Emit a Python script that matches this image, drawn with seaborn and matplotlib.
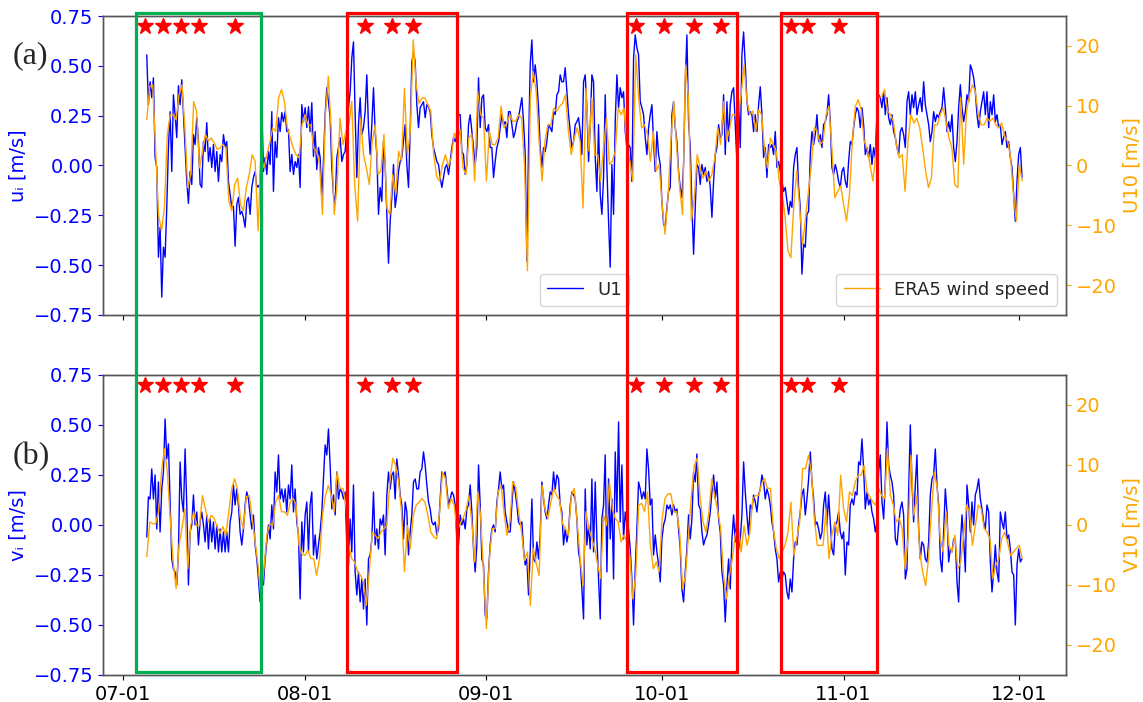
import numpy as np
import pandas as pd
import matplotlib
matplotlib.use("Agg")
import matplotlib.pyplot as plt
import matplotlib.dates as mdates
import matplotlib.transforms as mtransforms
from matplotlib.patches import Rectangle
import seaborn as sns

sns.set_style("ticks")
plt.rcParams["font.family"] = ["DejaVu Sans"]

# Mooring currents are sampled every 410 min, ERA5 winds every 12 h
CURRENT_START, CURRENT_FREQ = "2023-07-04 23:45", "410min"
WIND_START, WIND_FREQ = "2023-07-05 00:00", "12h"

# (a) along-shore current u1 [m/s]
u1 = [
    0.555, 0.305, 0.42, 0.34, 0.44, 0.04, -0.01, -0.46, -0.31, -0.66,
    -0.41, -0.46, -0.21, 0.09, 0.27, -0.03, 0.355, 0.255, 0.14, 0.40,
    0.305, 0.43, 0.255, 0.09, -0.08, -0.19, -0.03, -0.095, 0.155, 0.105,
    0.24, 0.12, -0.095, -0.11, 0.12, 0.07, 0.215, 0.02, 0.09, -0.01,
    0.105, -0.03, 0.07, -0.08, 0.055, 0.02, 0.155, 0.095, 0.12, -0.08,
    -0.145, -0.21, -0.205, -0.405, -0.195, -0.16, -0.245, -0.23, -0.26, -0.31,
    -0.18, -0.16, -0.245, -0.11, -0.06, -0.03, -0.11, -0.10, -0.12, 0.305,
    -0.03, 0.04, -0.045, 0.07, 0.005, 0.27, -0.13, 0.12, 0.04, 0.24,
    0.17, 0.265, 0.22, 0.27, 0.17, 0.18, -0.03, 0.055, -0.045, 0.02,
    -0.01, 0.055, -0.11, 0.305, 0.22, 0.29, 0.19, 0.295, 0.17, 0.315,
    0.045, 0.17, -0.02, 0.09, 0.04, -0.16, 0.02, 0.255, 0.39, 0.32,
    0.24, -0.01, -0.145, -0.195, 0.04, 0.09, 0.14, 0.02, 0.055, 0.07,
    0.19, 0.29, 0.37, 0.54, 0.62, 0.255, -0.06, 0.205, 0.34, 0.155,
    0.19, 0.27, 0.455, 0.19, 0.055, 0.205, 0.39, 0.17, 0.055, -0.245,
    -0.11, -0.18, 0.12, 0.005, -0.245, -0.49, -0.28, -0.16, 0.005, -0.21,
    -0.145, -0.03, 0.02, 0.04, 0.12, 0.205, 0.005, -0.11, 0.17, 0.52,
    0.57, 0.52, 0.305, 0.19, 0.29, 0.305, 0.32, 0.24, 0.305, 0.295,
    0.27, 0.155, 0.09, 0.055, 0.02, 0.005, -0.06, -0.11, -0.06, -0.01,
    0.005, -0.045, 0.02, 0.09, 0.14, 0.12, 0.17, 0.255, 0.255, 0.07,
    0.055, -0.045, 0.005, 0.205, 0.255, 0.17, 0.09, 0.005, 0.09, 0.44,
    0.19, 0.34, 0.355, 0.19, 0.17, 0.205, 0.09, 0.09, -0.06, 0.02,
    0.09, 0.12, 0.19, 0.255, 0.205, 0.22, 0.14, 0.27, 0.27, 0.205,
    0.14, 0.17, 0.22, 0.24, 0.29, 0.34, 0.22, 0.055, -0.48, 0.09,
    0.505, 0.63, 0.42, 0.505, 0.42, 0.29, 0.09, -0.01, 0.09, 0.07,
    0.12, 0.205, 0.19, 0.17, 0.27, 0.255, 0.355, 0.37, 0.455, 0.42,
    0.42, 0.49, 0.37, 0.255, 0.17, 0.09, 0.12, 0.205, 0.22, 0.24,
    0.17, 0.055, 0.42, 0.455, 0.29, 0.02, 0.19, 0.455, 0.42, 0.04,
    -0.13, 0.205, -0.145, -0.245, -0.06, 0.355, -0.01, -0.28, -0.51, 0.005,
    -0.245, 0.22, 0.455, 0.29, 0.39, 0.34, 0.37, 0.17, 0.09, 0.105,
    0.09, -0.08, 0.54, 0.655, 0.59, 0.555, 0.32, 0.29, 0.255, 0.14,
    0.055, 0.19, 0.255, 0.305, 0.12, -0.03, 0.17, 0.055, 0.005, -0.18,
    -0.295, -0.31, -0.21, -0.13, -0.11, 0.255, 0.32, 0.19, 0.12, -0.03,
    -0.11, -0.16, 0.005, 0.42, 0.655, 0.22, 0.09, -0.195, -0.445, -0.21,
    0.005, -0.01, -0.095, 0.005, -0.045, -0.01, -0.08, -0.03, -0.11, -0.26,
    -0.08, 0.055, 0.09, 0.205, 0.14, 0.155, 0.355, 0.055, 0.32, 0.12,
    0.305, 0.37, 0.39, 0.205, 0.02, 0.305, 0.09, 0.555, 0.67, 0.505,
    0.32, 0.255, 0.27, 0.255, 0.17, 0.255, 0.17, 0.305, 0.395, 0.255,
    0.04, 0.09, -0.06, 0.105, 0.09, 0.105, 0.055, 0.17, -0.01, 0.02,
    -0.03, -0.08, -0.13, -0.11, -0.18, -0.245, -0.18, -0.21, -0.01, 0.055,
    0.09, -0.11, -0.21, -0.545, -0.395, -0.41, -0.245, -0.23, 0.055, 0.17,
    0.105, 0.155, 0.255, 0.12, 0.155, 0.09, 0.205, 0.22, 0.255, 0.355,
    0.22, -0.01, -0.045, 0.005, -0.03, -0.08, -0.11, -0.03, -0.01, -0.08,
    -0.11, 0.02, 0.12, 0.105, 0.19, 0.255, 0.29, 0.27, 0.19, 0.29,
    0.205, 0.055, 0.09, 0.04, 0.105, 0.005, 0.09, 0.04, 0.27, 0.355,
    0.34, 0.29, 0.37, 0.255, 0.34, 0.24, 0.205, 0.255, 0.17, 0.14,
    0.09, 0.055, 0.17, 0.19, 0.155, 0.09, 0.32, 0.37, 0.255, 0.355,
    0.29, 0.37, 0.255, 0.305, 0.34, 0.27, 0.42, 0.305, 0.255, 0.205,
    0.12, 0.17, 0.27, 0.22, 0.255, 0.24, 0.27, 0.29, 0.39, 0.29,
    0.17, 0.22, 0.17, 0.255, 0.09, 0.02, 0.12, 0.29, 0.405, 0.29,
    0.22, 0.27, 0.355, 0.32, 0.505, 0.48, 0.44, 0.37, 0.255, 0.19,
    0.27, 0.32, 0.37, 0.255, 0.37, 0.19, 0.32, 0.255, 0.355, 0.22,
    0.255, 0.19, 0.205, 0.105, 0.14, 0.17, 0.09, 0.12, 0.04, -0.01,
    -0.145, -0.28, -0.08, 0.055, 0.09, -0.06,
]
# (a) ERA5 U10 [m/s]
era5_u10 = [
    7.7, 13.2, 13.5, 2.9, -8.2, -10.9, -7.1, 5.2, 8.5, 8.5,
    7.7, 11.8, 13.5, 6.3, -3.7, -1.5, 10.7, 9.1, -0.4, 2.4,
    5.2, 4.1, 4.6, 3.8, 2.7, 2.9, 3.5, 2.9, -5.9, -7.6,
    -3.2, -2.1, -6.5, -7.6, -3.7, -1.5, 1.8, 0.7, -10.9, 1.8,
    -0.4, 1.8, 3.8, 6.3, 5.7, 11.3, 12.7, 10.7, 6.3, 4.6,
    2.9, 1.8, 1.3, 6.8, 8.5, 6.8, 6.8, 2.9, 2.4, 0.2,
    -8.2, 8.5, 14.9, 5.7, -8.2, -3.2, 7.9, 3.5, 5.7, 6.8,
    10.7, -3.2, -9.3, 7.9, 1.8, -0.4, -3.2, 4.1, 6.8, -1.5,
    -0.9, 5.2, -7.1, -8.2, -1.5, -4.8, 2.4, 0.7, 12.9, 1.8,
    5.7, 21.0, 13.5, 10.4, 11.3, 11.3, 10.2, 9.1, 1.8, -1.8,
    -2.6, 0.2, 1.8, -0.1, 1.3, 5.4, 4.1, 6.0, -0.4, -1.5,
    4.6, 5.2, -2.6, 12.4, 8.5, 8.0, -2.6, 5.7, 3.5, 3.5,
    4.6, 9.9, 6.3, 7.1, 8.5, 7.4, 7.4, 8.5, 8.0, 0.2,
    -17.6, 11.3, 15.7, 12.4, 4.1, -2.6, 4.1, 6.8, 6.8, 9.6,
    9.1, 9.9, 10.4, 11.8, 5.7, 1.8, 4.6, 6.3, 4.1, -7.1,
    12.9, 2.4, 11.3, 1.8, 1.8, -2.6, 2.9, 7.9, 0.2, 0.7,
    2.4, 9.6, 8.5, 9.6, 2.9, 0.7, -2.6, 18.5, 11.3, 6.3,
    6.8, 5.2, 0.7, 5.7, -0.9, 0.2, -6.5, -11.5, -5.4, 4.1,
    10.7, 2.9, -3.7, -8.2, 16.8, 11.3, -9.3, -5.4, 1.8, -0.4,
    -2.1, -0.9, -2.6, -1.5, 1.3, 6.3, 3.5, 10.7, 4.1, 6.0,
    8.5, 8.5, 8.5, 11.8, 16.8, 10.7, 8.5, 9.1, 5.7, 9.3,
    8.5, 2.7, -0.4, 4.6, 3.5, 2.4, -2.6, -4.8, -8.5, -14.3,
    -15.4, -6.5, -0.9, -7.1, -13.2, -8.7, -4.3, 0.2, 6.3, 5.7,
    3.5, 4.1, 8.5, 9.9, 2.9, -5.4, -4.3, -3.4, -6.5, -9.3,
    -4.8, 4.3, 9.9, 11.0, 9.3, 4.1, 2.9, 0.2, -2.6, 1.8,
    11.3, 11.6, 12.7, 9.1, 8.5, 7.4, 3.5, 1.3, 1.8, -4.3,
    4.1, 8.5, 7.1, 7.9, 6.3, 2.9, -0.9, -3.7, -2.1, 6.8,
    6.8, 8.5, 9.6, 7.4, 4.6, 2.9, -3.2, -3.7, 11.3, 0.2,
    9.1, 11.8, 13.5, 12.4, 8.5, 6.8, 6.8, 7.9, 7.4, 7.9,
    6.8, 6.3, 7.1, 4.9, 4.1, 1.6, -4.8, -9.3, 0.2, -2.6,
]

# (b) cross-shore current v1 [m/s]
v1 = [
    -0.06, 0.14, 0.13, 0.28, 0.13, 0.25, -0.02, 0.215, -0.035, 0.18,
    0.265, 0.53, 0.33, 0.405, 0.115, -0.17, -0.22, -0.235, -0.30, -0.135,
    0.315, 0.13, 0.065, 0.38, 0.10, -0.30, -0.035, 0.0, 0.15, 0.0,
    0.065, -0.10, 0.015, 0.065, 0.0, -0.085, 0.05, -0.12, 0.03, -0.085,
    0.015, -0.12, 0.0, -0.135, -0.02, -0.135, -0.035, -0.135, -0.035, -0.135,
    0.015, 0.065, 0.20, 0.10, 0.18, 0.10, -0.035, -0.10, -0.02, 0.10,
    0.165, 0.13, 0.05, -0.02, 0.05, -0.10, -0.17, -0.27, -0.385, -0.135,
    -0.30, -0.17, -0.085, 0.0, -0.07, 0.10, -0.02, 0.265, 0.165, 0.35,
    0.13, 0.18, 0.115, 0.18, 0.065, 0.20, 0.13, 0.30, 0.065, 0.18,
    0.015, -0.05, -0.37, 0.015, -0.135, 0.05, 0.115, -0.135, 0.10, 0.165,
    -0.15, -0.05, -0.17, -0.10, -0.035, 0.065, 0.23, 0.40, 0.35, 0.48,
    0.30, 0.08, 0.15, 0.05, 0.265, 0.13, 0.18, 0.165, 0.13, 0.165,
    -0.10, -0.20, 0.03, -0.135, 0.20, -0.235, -0.35, -0.235, -0.385, -0.27,
    -0.42, -0.27, -0.50, -0.17, -0.15, -0.07, 0.165, -0.10, -0.02, -0.12,
    0.03, 0.0, 0.05, -0.15, 0.15, 0.265, 0.18, 0.25, 0.265, 0.13,
    0.33, 0.25, 0.15, 0.10, -0.07, 0.115, 0.065, -0.15, -0.035, 0.05,
    0.215, 0.23, 0.18, 0.18, 0.265, 0.28, 0.365, 0.30, 0.20, 0.115,
    0.08, 0.015, 0.0, 0.015, -0.05, -0.02, 0.13, 0.265, 0.25, 0.265,
    0.18, 0.10, 0.13, 0.165, 0.15, 0.10, -0.07, -0.10, 0.05, 0.0,
    0.03, -0.02, 0.08, 0.10, 0.20, 0.065, -0.12, -0.235, -0.10, 0.30,
    0.10, -0.17, -0.20, -0.45, -0.47, -0.235, -0.10, -0.02, 0.0, -0.035,
    0.115, 0.18, 0.265, 0.18, 0.20, 0.065, 0.015, -0.035, -0.035, 0.10,
    0.215, 0.165, 0.10, 0.015, 0.0, 0.015, -0.12, -0.20, -0.17, -0.35,
    -0.135, 0.13, -0.17, -0.185, -0.085, -0.17, -0.05, 0.215, 0.13, 0.065,
    0.03, 0.10, 0.165, 0.15, 0.265, 0.18, 0.25, 0.23, 0.10, 0.065,
    -0.10, -0.02, -0.085, -0.035, 0.10, 0.165, 0.15, 0.13, 0.03, -0.135,
    -0.185, -0.32, -0.47, 0.18, -0.10, 0.0, -0.12, 0.23, -0.135, 0.215,
    -0.07, -0.27, -0.47, 0.03, 0.10, 0.35, -0.235, 0.23, -0.07, 0.13,
    -0.27, 0.365, 0.065, 0.515, 0.015, 0.30, -0.07, 0.065, 0.0, -0.02,
    -0.12, -0.27, -0.50, -0.22, -0.02, 0.215, 0.18, 0.13, 0.165, 0.13,
    0.38, 0.28, 0.10, 0.13, -0.15, -0.05, -0.135, -0.20, -0.285, -0.07,
    0.0, 0.03, 0.10, 0.08, 0.10, 0.05, 0.10, 0.065, 0.08, -0.02,
    -0.12, -0.32, -0.385, -0.235, -0.12, 0.05, -0.07, 0.03, 0.265, 0.215,
    0.355, 0.10, 0.08, -0.035, -0.10, -0.07, -0.05, 0.0, 0.065, 0.165,
    0.25, 0.13, 0.215, 0.03, -0.035, -0.235, -0.30, -0.485, -0.30, -0.17,
    -0.32, -0.07, 0.05, -0.085, 0.05, -0.12, -0.07, 0.05, 0.315, 0.165,
    0.05, -0.05, 0.10, 0.08, 0.15, 0.115, 0.065, 0.15, 0.18, 0.25,
    0.215, 0.13, 0.18, 0.15, 0.10, 0.015, -0.035, -0.12, -0.17, -0.285,
    -0.235, -0.27, -0.235, -0.25, -0.335, -0.37, -0.27, -0.335, -0.17, -0.085,
    -0.10, 0.0, 0.065, 0.15, 0.18, 0.05, 0.13, 0.23, 0.365, 0.215,
    0.13, 0.0, 0.015, -0.02, -0.07, -0.035, 0.10, 0.165, 0.0, 0.15,
    0.015, -0.12, -0.15, 0.0, 0.015, 0.065, -0.035, -0.07, -0.035, -0.25,
    -0.085, -0.10, 0.10, 0.13, 0.10, 0.165, 0.15, 0.315, 0.30, 0.43,
    0.28, 0.08, 0.165, 0.10, 0.13, 0.065, 0.03, -0.035, 0.015, 0.265,
    0.35, 0.115, 0.03, 0.215, 0.515, 0.30, 0.25, 0.215, 0.15, -0.07,
    -0.10, 0.0, 0.08, 0.115, 0.05, -0.27, -0.22, 0.165, 0.50, 0.215,
    0.015, 0.20, 0.35, -0.02, -0.17, -0.085, -0.10, -0.17, -0.185, -0.085,
    0.15, 0.23, 0.25, 0.38, 0.20, 0.10, -0.17, -0.235, -0.035, 0.18,
    0.065, -0.185, -0.12, -0.135, -0.07, -0.07, -0.285, -0.385, -0.10, 0.05,
    -0.07, -0.235, 0.20, 0.10, -0.035, 0.115, 0.0, 0.15, 0.18, 0.23,
    0.13, 0.08, 0.015, -0.02, 0.10, 0.065, -0.185, -0.335, -0.235, -0.10,
    -0.235, -0.285, 0.065, 0.015, -0.02, 0.065, -0.07, -0.05, -0.12, -0.235,
    -0.25, -0.50, -0.20, -0.12, -0.185, -0.17,
]
# (b) ERA5 V10 [m/s]
era5_v10 = [
    -5.3, 0.5, 0.2, 0.2, 2.2, 8.8, 12.7, 8.8, 1.1, -6.2,
    -10.6, -3.4, -0.6, 2.7, -7.3, -0.1, 2.2, -0.1, -0.1, 4.9,
    2.7, 0.5, 1.6, 1.1, -0.3, -1.4, -0.3, -1.7, 2.2, 6.1,
    7.7, 5.8, 1.1, -0.6, 4.7, 4.9, 1.1, -2.8, -6.7, -12.5,
    -7.3, -1.7, 0.2, -0.1, 3.8, 4.9, 2.2, 2.2, 1.6, 3.8,
    4.4, 3.3, -3.4, -4.8, -5.1, -4.2, -5.6, -5.6, -8.4, -5.6,
    1.6, 4.9, 6.6, 4.9, 2.2, 8.8, 6.1, 6.1, 3.3, -3.4,
    -5.6, -6.2, -7.8, -8.4, -9.5, -13.4, -7.8, -1.2, -1.7, -2.3,
    -1.2, -0.6, -0.1, 7.2, 11.1, 10.0, 7.2, 2.2, -7.8, -0.1,
    -3.9, 1.6, 3.3, 3.8, 4.4, 3.8, 1.6, -1.2, -2.0, -2.3,
    2.2, 8.8, 7.7, 2.7, 4.4, 3.3, -1.2, 0.2, 1.1, 2.4,
    4.9, 0.5, -6.2, 5.5, 1.6, -7.8, -17.3, -5.6, -0.6, -0.6,
    5.5, 6.6, 2.2, -1.7, 0.5, 7.2, 6.3, 2.2, -1.2, -5.9,
    -4.5, -13.4, -3.9, -6.4, -8.4, 6.6, 2.7, 1.1, 3.8, 6.1,
    4.9, 4.1, 0.2, -0.6, -1.7, 4.9, 6.1, 0.5, -5.6, -10.1,
    2.2, -0.6, -2.3, -3.9, -6.7, -8.9, 1.6, -0.1, 7.2, 2.7,
    1.1, 0.5, -2.8, -1.7, -2.8, -5.1, -12.3, -8.4, 3.3, 3.6,
    2.2, 5.5, -3.4, -7.3, -6.2, -7.8, 1.1, 4.4, 5.2, 5.2,
    2.2, 2.2, -1.2, -10.6, -8.4, -1.7, 4.9, 9.9, 11.1, 4.4,
    0.5, -1.2, 2.2, 7.7, 4.7, 2.4, -0.6, -8.4, -12.3, -8.5,
    -5.6, -1.7, -0.1, -4.5, -0.1, -3.4, -1.2, 4.4, 4.9, 4.9,
    6.9, 7.7, 6.1, 6.1, -0.6, -3.9, -5.6, -4.5, -3.4, -1.2,
    3.8, -5.1, -2.3, 0.5, 9.4, 9.4, 11.6, 8.8, 1.1, -3.4,
    -3.4, -3.4, 2.7, -5.6, -1.7, 0.5, -1.7, 8.3, 2.7, 0.5,
    5.5, 4.9, 7.2, 8.3, 8.3, 9.9, 5.5, 4.7, 3.8, 3.3,
    6.1, 4.9, 4.4, 12.7, 4.9, 3.3, 0.5, 1.1, -0.6, -7.3,
    -2.3, 11.6, 1.6, 4.9, -4.5, -7.8, -10.1, -5.6, 2.2, 8.8,
    6.1, -2.3, -4.5, 2.2, -3.4, -4.5, -1.7, -7.3, -6.2, -1.7,
    3.3, 2.2, -3.4, -0.1, 3.3, 2.7, -0.6, -1.2, -2.3, -8.9,
    -6.7, -5.6, -2.3, -1.2, -2.9, -5.1, -4.5, -3.9, -3.4, -5.6,
]

# Marked events and highlighted periods
event_times = [
    "2023-07-04 17:00", "2023-07-07 20:00", "2023-07-10 19:00", "2023-07-13 22:00",
    "2023-07-20 02:00", "2023-08-11 05:00", "2023-08-15 19:00", "2023-08-19 12:00",
    "2023-09-26 14:00", "2023-10-01 07:00", "2023-10-06 12:00", "2023-10-11 02:00",
    "2023-10-23 02:00", "2023-10-25 17:00", "2023-10-31 05:00",
]
period_starts = ["2023-07-03 05:00", "2023-08-08 03:00", "2023-09-24 23:00", "2023-10-21 07:00"]
period_ends = ["2023-07-24 10:00", "2023-08-26 22:00", "2023-10-13 19:00", "2023-11-06 17:00"]
period_colors = ["#00b050", "#ff0000", "#ff0000", "#ff0000"]

BLUE = "#0000ff"
ORANGE = "#ffa500"
SPINE = "#555555"

fig = plt.figure(figsize=(11.43, 7.02), dpi=100)
ax_a = fig.add_axes([0.0901, 0.5513, 0.8425, 0.4259])
ax_b = fig.add_axes([0.0901, 0.0385, 0.8425, 0.4274], sharex=ax_a)

event_dt = pd.to_datetime(event_times)


def draw_panel(ax, obs, era, left_label, right_label, with_legend):
    cur = pd.DataFrame({
        "time": pd.date_range(CURRENT_START, periods=len(obs), freq=CURRENT_FREQ),
        "value": obs,
    })
    wind = pd.DataFrame({
        "time": pd.date_range(WIND_START, periods=len(era), freq=WIND_FREQ),
        "value": era,
    })
    sns.lineplot(data=cur, x="time", y="value", ax=ax, color=BLUE, lw=1.0,
                 estimator=None, sort=False,
                 label="U1" if with_legend else None, legend=with_legend)
    ax.set_ylim(-0.75, 0.75)
    ax.set_yticks(np.arange(-0.75, 0.76, 0.25))
    ax.set_ylabel(left_label, color=BLUE, fontsize=14)
    ax.set_xlabel("")
    ax.tick_params(axis="y", colors=BLUE, labelsize=14)
    ax.tick_params(axis="x", labelsize=14, colors="black")

    # event markers along the top of the panel
    trans = mtransforms.blended_transform_factory(ax.transData, ax.transAxes)
    ax.plot(event_dt, np.full(len(event_dt), 0.965), ls="none", marker="*",
            ms=12, color="red", mec="red", transform=trans, scalex=False,
            scaley=False, zorder=5, label="_nolegend_")

    tw = ax.twinx()
    sns.lineplot(data=wind, x="time", y="value", ax=tw, color=ORANGE, lw=1.0,
                 estimator=None, sort=False,
                 label="ERA5 wind speed" if with_legend else None,
                 legend=with_legend)
    tw.set_ylim(-25, 25)
    tw.set_yticks([-20, -10, 0, 10, 20])
    tw.set_ylabel(right_label, color=ORANGE, fontsize=14)
    tw.tick_params(axis="y", colors=ORANGE, labelsize=14)

    for a in (ax, tw):
        for s in a.spines.values():
            s.set_color(SPINE)
            s.set_linewidth(1.0)

    if with_legend:
        ax.legend(loc="lower center", fontsize=13)
        tw.legend(loc="lower right", fontsize=13)
    return cur["time"], wind["time"]


t_a = draw_panel(ax_a, u1, era5_u10, "uᵢ [m/s]", "U10 [m/s]", True)
t_b = draw_panel(ax_b, v1, era5_v10, "vᵢ [m/s]", "V10 [m/s]", False)

all_t = pd.concat([*t_a, *t_b])
t0, t1 = all_t.min(), all_t.max()
pad = (t1 - t0) * 0.05
ax_a.set_xlim(t0 - pad, t1 + pad)
ax_b.xaxis.set_major_locator(mdates.MonthLocator())
ax_b.xaxis.set_major_formatter(mdates.DateFormatter("%m-%d"))
ax_a.tick_params(axis="x", labelbottom=False)

# highlighted periods spanning both panels
box_trans = mtransforms.blended_transform_factory(ax_b.transData, fig.transFigure)
y_lo, y_hi = 1 - 672 / 702, 1 - 13 / 702
for s, e, c in zip(period_starts, period_ends, period_colors):
    x0 = mdates.date2num(pd.Timestamp(s))
    x1 = mdates.date2num(pd.Timestamp(e))
    fig.add_artist(Rectangle((x0, y_lo), x1 - x0, y_hi - y_lo, transform=box_trans,
                             fill=False, edgecolor=c, lw=2.3, zorder=10))

fig.text(0.027, 0.921, "(a)", family="Liberation Serif", fontsize=23,
         ha="center", va="center")
fig.text(0.027, 0.349, "(b)", family="Liberation Serif", fontsize=23,
         ha="center", va="center")

fig.savefig("out.png", dpi=100)
